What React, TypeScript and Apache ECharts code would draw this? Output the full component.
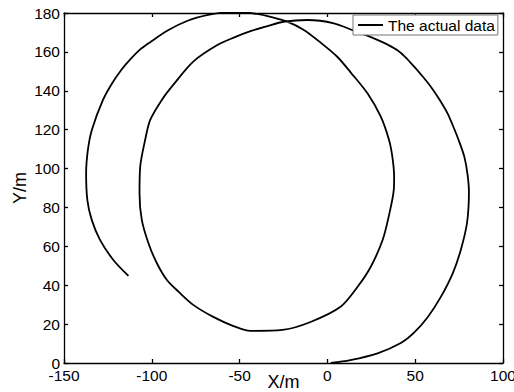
import React, { useEffect, useRef } from "react";
import * as echarts from "echarts";

// Trajectory (X/m, Y/m), in path order
const trajectoryX: number[] = [
  2, 13, 28.6, 41.8, 49.2, 57.2, 64.6, 71.5, 76, 79.5, 80.6, 79.8, 78, 75, 71.5, 68.4, 63.8, 58.9, 54, 49.4, 44.5, 39.9, 35, 30.4, 22, 15.1, 3.7, -11.3, -25, -34.1, -43.8, -53,
  -62.7, -76.4, -87.8, -94.3, -100.9, -103.8, -106.6, -107, -105.7, -101.9, -97.1, -91.4, -84.8, -76.4, -65, -53.5, -43.8, -25.6, -9.6, 7.5,
  17.2, 24.7, 31.5, 34.9, 37.8, 38, 37, 35.1, 30.4, 22.8, 13.2, 5.6, -3.9, -13.4, -22.9, -32.4, -40, -49.6, -58, -68,
  -79.6, -91, -100.9, -106.9, -112.4, -117.4, -122.5, -127.8, -134.1, -136.4, -137.4, -136.7, -134.2, -129.5, -121.9, -113.3,
];
const trajectoryY: number[] = [
  0, 1.5, 5, 10.3, 15.5, 23.7, 34, 46.4, 58.3, 72, 88, 97, 106, 114, 122, 128.4, 135.5, 142.1, 147.6, 152.4, 157.2, 160.8, 163.4, 165.4, 168.6, 170.9, 174.7, 176.4, 175.5, 173.3, 170.7, 167.5,
  163.5, 155, 143, 135.3, 125, 114.7, 101, 87.3, 73.6, 61.6, 51.3, 42.7, 36.7, 29.9, 23.7, 19, 16.5, 17, 21.1, 28.9,
  39.2, 49.5, 63.4, 75.3, 89, 95.8, 106, 114.7, 126.7, 138.7, 149.5, 157.5, 164.8, 171.3, 175.6, 178, 179.5, 180.5, 180.3, 179,
  176, 171, 165, 161, 156, 150.7, 144, 135.3, 120, 109.6, 97.6, 83.8, 73.6, 63.3, 53, 44.8,
];

const seriesName = "The actual data";
const xTicks = { min: -150, max: 100, interval: 50 };
const yTicks = { min: 0, max: 180, interval: 20 };
const xName = "X/m";
const yName = "Y/m";

const FONT = 'Arial, "Liberation Sans", sans-serif';

export default function App() {
  const ref = useRef<HTMLDivElement>(null);

  useEffect(() => {
    if (!ref.current) return;
    const chart = echarts.init(ref.current, undefined, { renderer: "svg" });
    const data = trajectoryX.map((x, i) => [x, trajectoryY[i]]);

    const lineStyle = { color: "#000", width: 1.3 };
    const tickBase = { show: true, inside: true, length: 4, lineStyle: { color: "#000", width: 1.3 } };

    chart.setOption({
      animation: false,
      backgroundColor: "#fff",
      grid: { left: 64, right: 11, top: 13, bottom: 29, containLabel: false, outerBoundsMode: "none" },
      legend: {
        data: [seriesName],
        left: 353,
        top: 15,
        icon: "rect",
        itemWidth: 25,
        itemHeight: 2,
        padding: [2, 3, 2, 5],
        backgroundColor: "#fff",
        borderColor: "#777",
        borderWidth: 1,
        borderRadius: 0,
        textStyle: { fontFamily: FONT, fontSize: 15.5, color: "#000", lineHeight: 16 },
      },
      xAxis: [
        {
          type: "value",
          position: "bottom",
          min: xTicks.min,
          max: xTicks.max,
          interval: xTicks.interval,
          name: xName,
          nameLocation: "middle",
          nameGap: 10,
          nameMoveOverlap: false,
          nameTextStyle: { fontFamily: FONT, fontSize: 18, color: "#000", verticalAlign: "top" },
          axisLine: { show: true, onZero: false, lineStyle },
          axisTick: tickBase,
          axisLabel: { fontFamily: FONT, fontSize: 15.5, color: "#000", margin: 4, hideOverlap: false },
          splitLine: { show: false },
        },
        {
          type: "value",
          position: "top",
          min: xTicks.min,
          max: xTicks.max,
          interval: xTicks.interval,
          axisLine: { show: true, onZero: false, lineStyle },
          axisTick: tickBase,
          axisLabel: { show: false },
          splitLine: { show: false },
        },
      ],
      yAxis: [
        {
          type: "value",
          position: "left",
          min: yTicks.min,
          max: yTicks.max,
          interval: yTicks.interval,
          name: yName,
          nameLocation: "middle",
          nameGap: 35,
          nameMoveOverlap: false,
          nameTextStyle: { fontFamily: FONT, fontSize: 18, color: "#000" },
          axisLine: { show: true, onZero: false, lineStyle },
          axisTick: tickBase,
          axisLabel: { fontFamily: FONT, fontSize: 15.5, color: "#000", margin: 4 },
          splitLine: { show: false },
        },
        {
          type: "value",
          position: "right",
          min: yTicks.min,
          max: yTicks.max,
          interval: yTicks.interval,
          axisLine: { show: true, onZero: false, lineStyle },
          axisTick: tickBase,
          axisLabel: { show: false },
          splitLine: { show: false },
        },
      ],
      series: [
        {
          name: seriesName,
          type: "line",
          xAxisIndex: 0,
          yAxisIndex: 0,
          data,
          showSymbol: false,
          smooth: 0.3,
          lineStyle: { color: "#000", width: 1.8 },
          itemStyle: { color: "#000" },
        },
      ],
    });

    return () => chart.dispose();
  }, []);

  return <div ref={ref} style={{ width: 514, height: 392, position: "absolute", left: 0, top: 0 }} />;
}
